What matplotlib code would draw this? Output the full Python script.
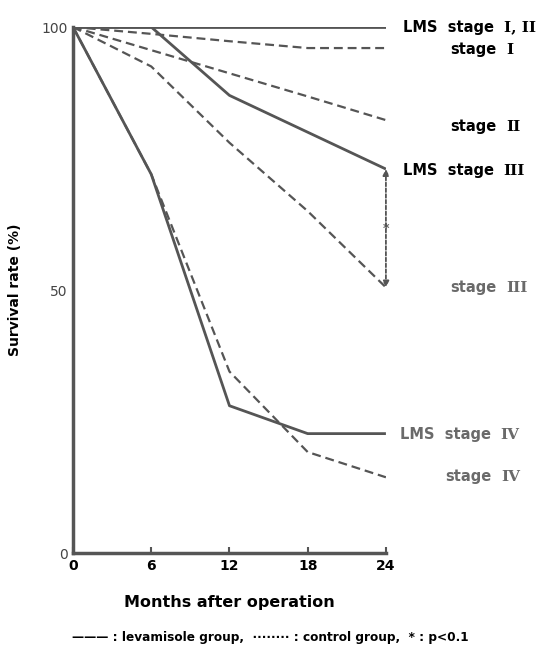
"""Survival curves: levamisole vs control group by stage."""

import matplotlib

matplotlib.use("Agg")

import matplotlib.pyplot as plt

plt.rcParams["font.family"] = ["DejaVu Sans", "Noto Sans CJK JP"]

months = [0, 6, 12, 18, 24]

# levamisole (LMS) group, solid lines
lms_stage_1_2 = [100, 100, 100, 100, 100]
lms_stage_3 = [100, 100, 87, 80, 73]
lms_stage_4 = [100, 72, 28, 22.7, 22.7]

# control group, dashed lines
ctl_stage_1 = [100, 98.7, 97.3, 96, 96]
ctl_stage_2 = [100, 95.6, 91.2, 86.8, 82.3]
ctl_stage_3 = [100, 92.5, 78, 65, 50.5]
ctl_stage_4 = [100, 72, 34.5, 19.2, 14.4]

x_ticks = [0, 6, 12, 18, 24]
y_ticks = [0, 50, 100]

GRAY = "#555555"
LIGHT = "#6a6a6a"

fig = plt.figure(figsize=(5.47, 6.51), dpi=100)
ax = fig.add_axes([0.1335, 0.1505, 0.572, 0.808])

solid = dict(color=GRAY, lw=2.0, solid_capstyle="butt")
dashed = dict(color=GRAY, lw=1.6, ls=(0, (4, 2.2)))

ax.plot(months, lms_stage_1_2, **solid)
ax.plot(months, lms_stage_3, **solid)
ax.plot(months, lms_stage_4, **solid)
ax.plot(months, ctl_stage_1, **dashed)
ax.plot(months, ctl_stage_2, **dashed)
ax.plot(months, ctl_stage_3, **dashed)
ax.plot(months, ctl_stage_4, **dashed)

# significance arrow between stage III curves at 24 months
ax.annotate("", xy=(24, ctl_stage_3[-1]), xytext=(24, lms_stage_3[-1]),
            arrowprops=dict(arrowstyle="<|-|>", color=GRAY, lw=1.3, ls=(0, (2, 1.2)),
                            shrinkA=0, shrinkB=0, mutation_scale=9))
ax.text(24, (ctl_stage_3[-1] + lms_stage_3[-1]) / 2, "*", ha="center", va="center",
        fontsize=9, color=GRAY, fontweight="bold")

ax.set_xlim(0, 24)
ax.set_ylim(0, 100)
ax.set_xticks(x_ticks)
ax.set_yticks(y_ticks)
ax.tick_params(axis="x", direction="in", length=4, width=1.5, color=GRAY, pad=4,
               labelsize=10)
ax.tick_params(axis="y", length=0, pad=4, labelsize=10, labelcolor="#444444")
for lbl in ax.get_xticklabels():
    lbl.set_fontweight("bold")
for side in ("top", "right"):
    ax.spines[side].set_visible(False)
for side in ("left", "bottom"):
    ax.spines[side].set_color(GRAY)
    ax.spines[side].set_linewidth(2.5)

ax.set_xlabel("Months after operation", fontsize=11.5, fontweight="bold", labelpad=16)
ax.set_ylabel("Survival rate (%)", fontsize=10, fontweight="bold", labelpad=14)

# curve labels on the right: sans text plus serif roman numerals
labels = [
    (403, 100, "LMS  stage", "I, II", "black"),
    (450, 95.8, "stage", "I", "black"),
    (450, 81, "stage", "II", "black"),
    (403, 72.8, "LMS  stage", "III", "black"),
    (450, 50.5, "stage", "III", LIGHT),
    (400, 22.5, "LMS  stage", "IV", LIGHT),
    (445, 14.5, "stage", "IV", LIGHT),
]
for px, y, text, numeral, col in labels:
    xf = px / 547
    yf = (ax.transData.transform((0, y))[1] - 4.5) / fig.bbox.height
    t = fig.text(xf, yf, text, ha="left", va="baseline", fontsize=10.5, fontweight="bold",
                 color=col)
    ax.annotate(numeral, xy=(1, 0), xycoords=t, xytext=(7, 0), textcoords="offset points",
                ha="left", va="bottom", fontsize=11, fontweight="bold", color=col,
                family="DejaVu Serif", annotation_clip=False)

fig.text(0.495, 0.02, "——— : levamisole group,  ········ : control group,  * : p<0.1",
         ha="center", va="center", fontsize=8.7, fontweight="bold")

fig.savefig("out.png", dpi=100)
